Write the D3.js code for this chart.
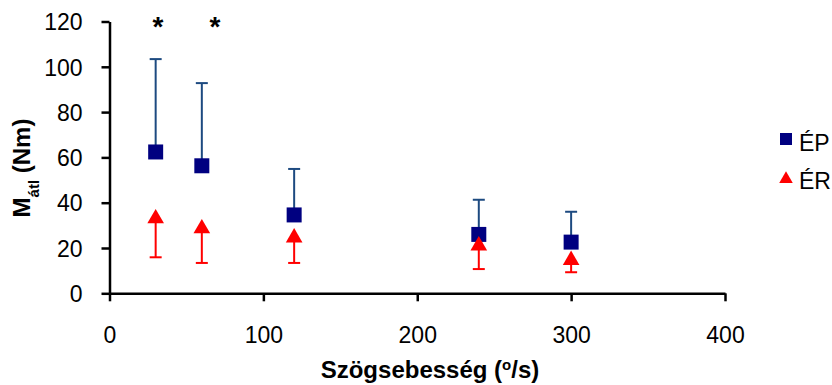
<!DOCTYPE html>
<meta charset="utf-8">
<html lang="hu">
  <head>
    <style>
      body { margin: 0; background-color: #fff; }
      text { font-family: "Liberation Sans", Arial, sans-serif; }
      .axis path, .axis line { stroke: #000; stroke-width: 2.5px; }
      .axis text { font-size: 23px; fill: #000; }
    </style>
  </head>
  <body>
    <script src="https://cdn.jsdelivr.net/npm/d3@7"></script>
    <svg></svg>
    <script>

      // data
      var speeds = [30, 60, 120, 240, 300];
      var epMean = [62.4, 56.3, 34.6, 26, 22.6];
      var epUpper = [103.4, 92.8, 54.9, 41.3, 36];
      var erMean = [33, 28.6, 24.6, 21, 14.6];
      var erLower = [15.9, 13.4, 13.4, 10.7, 9.3];
      var xTicks = [0, 100, 200, 300, 400];
      var yTicks = [0, 20, 40, 60, 80, 100, 120];
      var stars = [31.5, 68.5];

      var width = 832, height = 385;

      var svg = d3.select("svg")
        .attr("width", width)
        .attr("height", height);

      var xScale = d3.scaleLinear().domain([0, 400]).range([109.5, 725]);
      var yScale = d3.scaleLinear().domain([0, 120]).range([293.3, 21.5]);

      var xAxis = svg.append("g")
        .attr("class", "axis")
        .attr("transform", "translate(0," + yScale(0) + ")")
        .call(d3.axisBottom(xScale).tickValues(xTicks).tickSize(8).tickSizeOuter(0).tickPadding(25));

      var yAxis = svg.append("g")
        .attr("class", "axis")
        .attr("transform", "translate(" + xScale(0) + ",0)")
        .call(d3.axisLeft(yScale).tickValues(yTicks).tickSize(8).tickSizeOuter(0).tickPadding(19));

      yAxis.selectAll(".tick text").attr("dy", "0.36em");

      // error bars
      var epColor = "#1d4a80", erColor = "#ff0000";

      var epData = speeds.map(function(s, i) { return {x: s, y: epMean[i], e: epUpper[i]}; });
      var erData = speeds.map(function(s, i) { return {x: s, y: erMean[i], e: erLower[i]}; });

      function errorBars(data, color) {
        var g = svg.append("g").attr("stroke", color).attr("stroke-width", 2);
        g.selectAll(".stem").data(data).enter().append("line")
          .attr("x1", function(d) { return xScale(d.x); })
          .attr("x2", function(d) { return xScale(d.x); })
          .attr("y1", function(d) { return yScale(d.y); })
          .attr("y2", function(d) { return yScale(d.e); });
        g.selectAll(".cap").data(data).enter().append("line")
          .attr("x1", function(d) { return xScale(d.x) - 6; })
          .attr("x2", function(d) { return xScale(d.x) + 6; })
          .attr("y1", function(d) { return yScale(d.e); })
          .attr("y2", function(d) { return yScale(d.e); });
      }

      errorBars(epData, epColor);
      errorBars(erData, erColor);

      var square = d3.symbol().type(d3.symbolSquare).size(225);
      var triangle = d3.symbol().type(d3.symbolTriangle).size(120);

      svg.selectAll(".ep").data(epData).enter().append("path")
        .attr("d", square)
        .attr("fill", "#000080")
        .attr("transform", function(d) { return "translate(" + xScale(d.x) + "," + yScale(d.y) + ")"; });

      svg.selectAll(".er").data(erData).enter().append("path")
        .attr("d", triangle)
        .attr("fill", erColor)
        .attr("transform", function(d) { return "translate(" + xScale(d.x) + "," + yScale(d.y) + ")"; });

      // significance stars
      svg.selectAll(".star").data(stars).enter().append("text")
        .attr("x", function(d) { return xScale(d); })
        .attr("y", 36)
        .attr("text-anchor", "middle")
        .style("font-size", "28px")
        .style("font-weight", "bold")
        .text("*");

      // axis titles
      var xt = svg.append("text")
        .attr("x", 430)
        .attr("y", 378)
        .attr("text-anchor", "middle")
        .style("font-size", "24px")
        .style("font-weight", "bold");
      xt.append("tspan").text("Szögsebesség (");
      xt.append("tspan").attr("baseline-shift", "super").style("font-size", "15px").text("o");
      xt.append("tspan").text("/s)");

      var yt = svg.append("text")
        .attr("transform", "translate(30,168) rotate(-90)")
        .attr("text-anchor", "middle")
        .style("font-size", "24px")
        .style("font-weight", "bold");
      yt.append("tspan").text("M");
      yt.append("tspan").attr("baseline-shift", "sub").style("font-size", "15px").text("átl");
      yt.append("tspan").attr("baseline-shift", "0").text(" (Nm)");

      // legend
      var legend = svg.append("g").attr("transform", "translate(786,0)");
      legend.append("path")
        .attr("d", d3.symbol().type(d3.symbolSquare).size(144))
        .attr("fill", "#000080")
        .attr("transform", "translate(0,139)");
      legend.append("text").attr("x", 13).attr("y", 151).style("font-size", "23px").text("ÉP");
      legend.append("path")
        .attr("d", d3.symbol().type(d3.symbolTriangle).size(80))
        .attr("fill", erColor)
        .attr("transform", "translate(0,179)");
      legend.append("text").attr("x", 13).attr("y", 189).style("font-size", "23px").text("ÉR");

    </script>
  </body>
</html>
